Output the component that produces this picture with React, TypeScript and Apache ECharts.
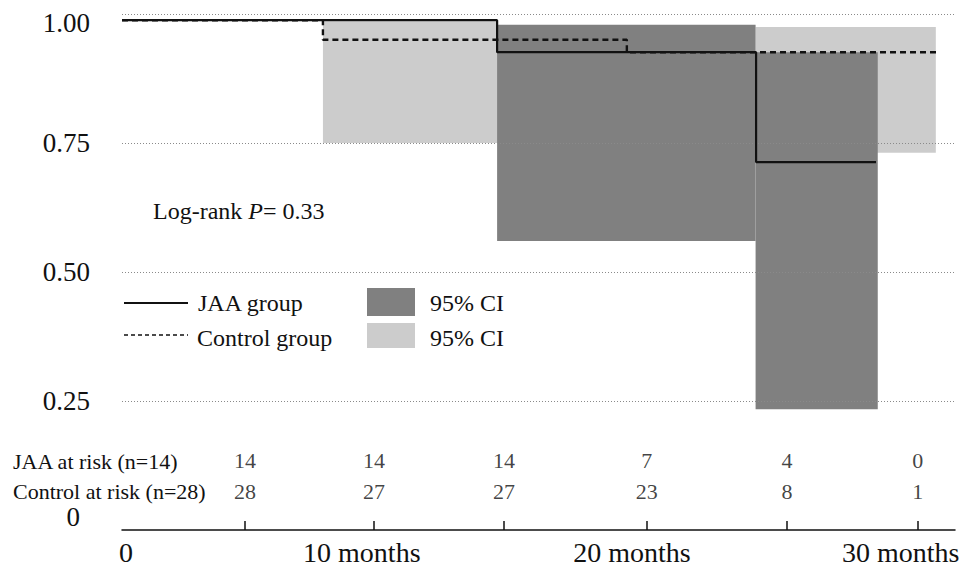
import React, { useEffect, useRef } from "react";
import * as echarts from "echarts";

// ---- data (time in months, survival probability) ----
const jaaTimes = [0, 14.86, 25.12, 29.87];
const jaaSurvival = [0.988, 0.926, 0.713, 0.713];
const controlTimes = [0, 7.96, 20.0, 32.3];
const controlSurvival = [0.988, 0.95, 0.926, 0.926];

const jaaCiStart = [14.86, 25.1];
const jaaCiEnd = [25.1, 29.94];
const jaaCiLower = [0.56, 0.234];
const jaaCiUpper = [0.979, 0.926];

const controlCiStart = [7.96, 25.1];
const controlCiEnd = [14.9, 32.24];
const controlCiLower = [0.75, 0.731];
const controlCiUpper = [0.986, 0.975];

const riskTimes = [4.87, 9.98, 15.13, 20.79, 26.34, 31.52];
const jaaAtRisk = [14, 14, 14, 7, 4, 0];
const controlAtRisk = [28, 27, 27, 23, 8, 1];
const riskRowJaa = 0.134;
const riskRowControl = 0.074;

const yTicks = [0.25, 0.5, 0.75, 1.0];
const xLabelPositions = [0.16, 9.5, 20.2, 30.85];
const xLabelTexts = ["0", "10 months", "20 months", "30 months"];

const FONT = "'Liberation Serif', 'Times New Roman', serif";
const INK = "#111111";

function boxSeries(name: string, starts: number[], ends: number[], lows: number[], highs: number[], color: string, z: number) {
  const data = starts.map((s, i) => [s, ends[i], lows[i], highs[i]]);
  return {
    name,
    type: "custom",
    z,
    silent: true,
    encode: { x: [0, 1], y: [2, 3] },
    data,
    renderItem: (params: any, api: any) => {
      const p0 = api.coord([api.value(0), api.value(3)]);
      const p1 = api.coord([api.value(1), api.value(2)]);
      return {
        type: "rect",
        shape: { x: p0[0], y: p0[1], width: p1[0] - p0[0], height: p1[1] - p0[1] },
        style: { fill: color },
      };
    },
  };
}

export default function App() {
  const ref = useRef<HTMLDivElement>(null);
  useEffect(() => {
    if (!ref.current) return;
    const chart = echarts.init(ref.current, undefined, { renderer: "svg" });
    const option: any = {
      animation: false,
      backgroundColor: "#ffffff",
      grid: { left: 122, right: 10, top: 14, bottom: 37, outerBoundsMode: "none" },
      xAxis: {
        type: "value",
        min: 0,
        max: 33,
        splitLine: { show: false },
        axisLine: { show: true, onZero: false, lineStyle: { color: INK, width: 1.5 } },
        axisTick: { show: true, inside: true, length: 9, customValues: riskTimes, lineStyle: { color: INK, width: 1.5 } },
        axisLabel: {
          customValues: xLabelPositions,
          formatter: (v: number) => {
            let best = 0;
            xLabelPositions.forEach((p, i) => {
              if (Math.abs(p - v) < Math.abs(xLabelPositions[best] - v)) best = i;
            });
            return xLabelTexts[best];
          },
          fontFamily: FONT,
          fontSize: 28,
          color: INK,
          margin: 8,
        },
      },
      yAxis: {
        type: "value",
        min: 0,
        max: 1,
        interval: 0.25,
        axisLine: { show: false },
        axisTick: { show: false },
        splitLine: { show: false },
        axisLabel: {
          margin: 32,
          fontFamily: FONT,
          fontSize: 27,
          color: INK,
          formatter: (v: number) => {
            if (v === 0) return "{zero|0}";
            if (v === 1) return "{top|1.00}";
            return v.toFixed(2);
          },
          rich: {
            zero: { fontFamily: FONT, fontSize: 27, color: INK, padding: [0, 10, 26, 0] },
            top: { fontFamily: FONT, fontSize: 27, color: INK, padding: [18, 0, 0, 0] },
          },
        },
      },
      graphic: [
        {
          type: "text",
          left: 153,
          top: 199,
          style: {
            text: "Log-rank {i|P}= 0.33",
            font: `24px ${FONT}`,
            fill: INK,
            rich: { i: { fontStyle: "italic", fontFamily: FONT, fontSize: 24, fill: INK } },
          },
        },
        { type: "line", shape: { x1: 124, y1: 303, x2: 188, y2: 303 }, style: { stroke: INK, lineWidth: 2 } },
        { type: "text", x: 198, y: 303, style: { text: "JAA group", font: `24px ${FONT}`, fill: INK, verticalAlign: "middle" } },
        { type: "line", shape: { x1: 124, y1: 335, x2: 188, y2: 335 }, style: { stroke: INK, lineWidth: 1.6, lineDash: [4, 3] } },
        { type: "text", x: 197, y: 338, style: { text: "Control group", font: `24px ${FONT}`, fill: INK, verticalAlign: "middle" } },
        { type: "rect", shape: { x: 367, y: 288, width: 48, height: 28 }, style: { fill: "#808080" } },
        { type: "rect", shape: { x: 367, y: 323, width: 48, height: 25 }, style: { fill: "#cccccc" } },
        { type: "text", x: 430, y: 303, style: { text: "95% CI", font: `24px ${FONT}`, fill: INK, verticalAlign: "middle" } },
        { type: "text", x: 430, y: 338, style: { text: "95% CI", font: `24px ${FONT}`, fill: INK, verticalAlign: "middle" } },
        { type: "text", x: 13, y: 461, style: { text: "JAA at risk (n=14)", font: `22px ${FONT}`, fill: INK, verticalAlign: "middle" } },
        { type: "text", x: 13, y: 491, style: { text: "Control at risk (n=28)", font: `22px ${FONT}`, fill: INK, verticalAlign: "middle" } },
      ],
      series: [
        boxSeries("Control 95% CI", controlCiStart, controlCiEnd, controlCiLower, controlCiUpper, "#cccccc", 1),
        {
          name: "gridlines",
          type: "line",
          z: 2,
          data: [],
          silent: true,
          markLine: {
            silent: true,
            symbol: "none",
            label: { show: false },
            lineStyle: { color: "#8a8a8a", width: 1, type: [1, 2] },
            data: yTicks.map((v) => ({ yAxis: v })),
          },
        },
        boxSeries("JAA 95% CI", jaaCiStart, jaaCiEnd, jaaCiLower, jaaCiUpper, "#808080", 3),
        {
          name: "Control group",
          type: "line",
          z: 4,
          step: "end",
          symbol: "none",
          silent: true,
          lineStyle: { color: INK, width: 2.4, type: [6, 4] },
          data: controlTimes.map((t, i) => [t, controlSurvival[i]]),
        },
        {
          name: "JAA group",
          type: "line",
          z: 5,
          step: "end",
          symbol: "none",
          silent: true,
          lineStyle: { color: INK, width: 2.2 },
          data: jaaTimes.map((t, i) => [t, jaaSurvival[i]]),
        },
        {
          name: "JAA at risk",
          type: "scatter",
          z: 6,
          clip: false,
          silent: true,
          symbolSize: 0,
          data: riskTimes.map((t, i) => [t, riskRowJaa, jaaAtRisk[i]]),
          label: { show: true, position: "inside", formatter: (p: any) => String(p.value[2]), fontFamily: FONT, fontSize: 22, color: INK },
        },
        {
          name: "Control at risk",
          type: "scatter",
          z: 6,
          clip: false,
          silent: true,
          symbolSize: 0,
          data: riskTimes.map((t, i) => [t, riskRowControl, controlAtRisk[i]]),
          label: { show: true, position: "inside", formatter: (p: any) => String(p.value[2]), fontFamily: FONT, fontSize: 22, color: INK },
        },
      ],
    };
    chart.setOption(option);
    return () => chart.dispose();
  }, []);
  return <div ref={ref} style={{ position: "absolute", left: 0, top: 0, width: 965, height: 567 }} />;
}
